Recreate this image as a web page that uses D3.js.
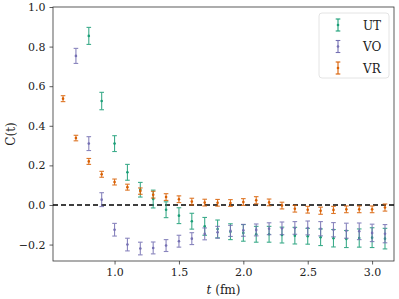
<!DOCTYPE html>
<html>
<head>
<meta charset="utf-8">
<script src="https://cdn.jsdelivr.net/npm/d3@7"></script>
<style>
  body { margin: 0; background: #fff; }
</style>
</head>
<body>
<div id="chart"></div>
<script>
// time slices (fm)
const tUT = [0.8, 0.9, 1.0, 1.1, 1.2, 1.3, 1.4, 1.5, 1.6, 1.7, 1.8, 1.9, 2.0, 2.1, 2.2, 2.3, 2.4, 2.5, 2.6, 2.7, 2.8, 2.9, 3.0, 3.1];
const valUT = [0.854, 0.525, 0.31, 0.165, 0.077, 0.03, -0.024, -0.054, -0.082, -0.108, -0.121, -0.135, -0.141, -0.148, -0.148, -0.152, -0.155, -0.158, -0.163, -0.168, -0.172, -0.167, -0.165, -0.17];
const errUT = [0.043, 0.044, 0.04, 0.04, 0.037, 0.045, 0.04, 0.04, 0.04, 0.045, 0.045, 0.04, 0.042, 0.04, 0.04, 0.04, 0.042, 0.04, 0.042, 0.044, 0.043, 0.046, 0.05, 0.052];

const tVO = [0.7, 0.8, 0.9, 1.0, 1.1, 1.2, 1.3, 1.4, 1.5, 1.6, 1.7, 1.8, 1.9, 2.0, 2.1, 2.2, 2.3, 2.4, 2.5, 2.6, 2.7, 2.8, 2.9, 3.0, 3.1];
const valVO = [0.753, 0.31, 0.027, -0.125, -0.2, -0.22, -0.217, -0.205, -0.183, -0.17, -0.146, -0.138, -0.131, -0.128, -0.126, -0.12, -0.118, -0.116, -0.116, -0.12, -0.125, -0.13, -0.133, -0.141, -0.145];
const errVO = [0.038, 0.035, 0.035, 0.032, 0.032, 0.032, 0.03, 0.03, 0.03, 0.03, 0.03, 0.03, 0.028, 0.03, 0.03, 0.03, 0.032, 0.032, 0.035, 0.036, 0.036, 0.038, 0.042, 0.044, 0.046];

const tVR = [0.6, 0.7, 0.8, 0.9, 1.0, 1.1, 1.2, 1.3, 1.4, 1.5, 1.6, 1.7, 1.8, 1.9, 2.0, 2.1, 2.2, 2.3, 2.4, 2.5, 2.6, 2.7, 2.8, 2.9, 3.0, 3.1];
const valVR = [0.537, 0.338, 0.22, 0.155, 0.116, 0.09, 0.07, 0.052, 0.04, 0.029, 0.017, 0.012, 0.011, 0.01, 0.015, 0.024, 0.013, -0.003, -0.019, -0.024, -0.029, -0.025, -0.022, -0.022, -0.022, -0.013];
const errVR = [0.015, 0.014, 0.015, 0.015, 0.015, 0.015, 0.016, 0.017, 0.017, 0.017, 0.017, 0.017, 0.017, 0.017, 0.017, 0.018, 0.017, 0.017, 0.017, 0.017, 0.018, 0.018, 0.017, 0.017, 0.017, 0.018];

const yTicks = [-0.2, 0.0, 0.2, 0.4, 0.6, 0.8, 1.0];
const xTicks = [1.0, 1.5, 2.0, 2.5, 3.0];

const series = [
  {name: "UT", t: tUT, v: valUT, e: errUT, color: "#1b9e77"},
  {name: "VO", t: tVO, v: valVO, e: errVO, color: "#7570b3"},
  {name: "VR", t: tVR, v: valVR, e: errVR, color: "#d95f02"}
];

const serif = "DejaVu Serif";

const W = 399, H = 299;
const margin = {top: 7, right: 5, bottom: 38, left: 53};
const width = W - margin.left - margin.right,
      height = H - margin.top - margin.bottom;

const svg = d3.select("#chart")
  .append("svg")
    .attr("width", W)
    .attr("height", H)
  .append("g")
    .attr("transform", "translate(" + margin.left + "," + margin.top + ")");

const x = d3.scaleLinear().domain([0.522, 3.17]).range([0, width]);
const y = d3.scaleLinear().domain([-0.283, 1.0]).range([height, 0]);

// axes
const xAxis = svg.append("g")
  .attr("transform", "translate(0," + height + ")")
  .call(d3.axisBottom(x).tickValues(xTicks).tickFormat(d3.format(".1f")).tickSize(3.5).tickPadding(4));
const yAxis = svg.append("g")
  .call(d3.axisLeft(y).tickValues(yTicks).tickFormat(d => d < 0 ? "\u2212" + d3.format(".1f")(-d) : d3.format(".1f")(d)).tickSize(3.5).tickPadding(4));

[xAxis, yAxis].forEach(a => {
  a.attr("font-family", serif).attr("font-size", 11);
  a.select(".domain").remove();
  a.selectAll("line").attr("stroke", "#333").attr("stroke-width", 0.8);
  a.selectAll("text").attr("fill", "#222");
});

// frame
svg.append("rect")
  .attr("width", width)
  .attr("height", height)
  .attr("fill", "none")
  .attr("stroke", "#333")
  .attr("stroke-width", 0.8);

// zero line
svg.append("line")
  .attr("x1", 0).attr("x2", width)
  .attr("y1", y(0)).attr("y2", y(0))
  .attr("stroke", "#000")
  .attr("stroke-width", 1.4)
  .attr("stroke-dasharray", "5,3");

// error bars
const cap = 2.3;
series.forEach(s => {
  const pts = s.t.map((t, i) => ({t: t, v: s.v[i], e: s.e[i]}));
  const g = svg.append("g").attr("stroke", s.color).attr("stroke-width", 1.1).attr("opacity", 0.85);
  pts.forEach(p => {
    const cx = x(p.t), y0 = y(p.v - p.e), y1 = y(p.v + p.e);
    g.append("line").attr("x1", cx).attr("x2", cx).attr("y1", y0).attr("y2", y1);
    g.append("line").attr("x1", cx - cap).attr("x2", cx + cap).attr("y1", y0).attr("y2", y0);
    g.append("line").attr("x1", cx - cap).attr("x2", cx + cap).attr("y1", y1).attr("y2", y1);
  });
  svg.append("g").selectAll("circle")
    .data(pts)
    .enter()
    .append("circle")
    .attr("cx", d => x(d.t))
    .attr("cy", d => y(d.v))
    .attr("r", 1.3)
    .attr("fill", s.color);
});

// legend
const leg = svg.append("g").attr("transform", "translate(" + (319 - margin.left) + "," + (13 - margin.top) + ")");
leg.append("rect")
  .attr("width", 70).attr("height", 65)
  .attr("rx", 3)
  .attr("fill", "#fff").attr("fill-opacity", 0.8)
  .attr("stroke", "#ddd").attr("stroke-width", 0.8);
series.forEach((s, i) => {
  const ly = 12 + i * 21.5, lx = 19;
  const g = leg.append("g").attr("stroke", s.color).attr("stroke-width", 1.1);
  g.append("line").attr("x1", lx).attr("x2", lx).attr("y1", ly - 6).attr("y2", ly + 6);
  g.append("line").attr("x1", lx - cap).attr("x2", lx + cap).attr("y1", ly - 6).attr("y2", ly - 6);
  g.append("line").attr("x1", lx - cap).attr("x2", lx + cap).attr("y1", ly + 6).attr("y2", ly + 6);
  leg.append("circle").attr("cx", lx).attr("cy", ly).attr("r", 1.3).attr("fill", s.color);
  leg.append("text")
    .attr("x", 44).attr("y", ly + 4.5)
    .attr("font-family", serif)
    .attr("font-size", 12)
    .attr("fill", "#222")
    .text(s.name);
});

// axis labels
const lbl = svg.append("text")
  .attr("x", width / 2)
  .attr("y", height + 33)
  .attr("text-anchor", "middle")
  .attr("font-family", serif)
  .attr("font-size", 12)
  .attr("fill", "#222");
lbl.append("tspan").attr("font-style", "italic").text("t");
lbl.append("tspan").text(" (fm)");

svg.append("text")
  .attr("transform", "translate(" + (-38) + "," + (height / 2) + ") rotate(-90)")
  .attr("text-anchor", "middle")
  .attr("font-family", serif)
  .attr("font-size", 12)
  .attr("fill", "#222")
  .text("C(t)");
</script>
</body>
</html>
